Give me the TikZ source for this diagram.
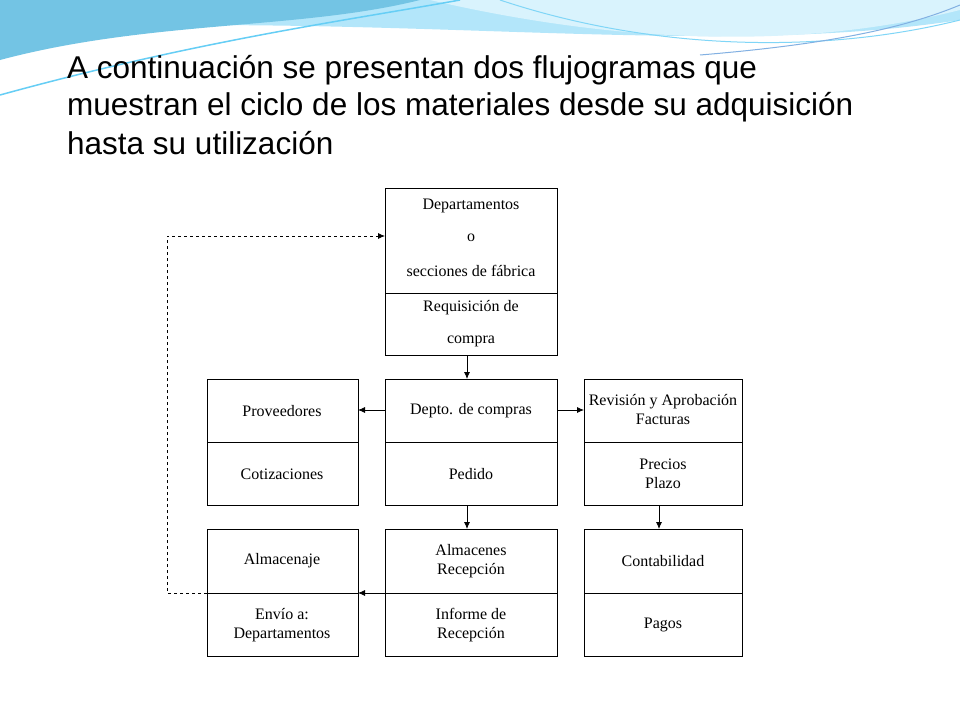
\documentclass[tikz,border=0pt]{standalone}
\usepackage{fontspec}
\setmainfont{Liberation Serif}
\newfontfamily\titlefont{Liberation Sans}
\usetikzlibrary{arrows.meta}
\begin{document}
\begin{tikzpicture}[x=1pt,y=-1pt,
  box/.style={draw=black,line width=0.8pt},
  lbl/.style={font=\fontsize{16}{19}\selectfont,align=center,inner sep=0pt},
  arr/.style={-{Latex[length=7pt,width=6pt]},line width=0.8pt}]
\useasboundingbox (0,0) rectangle (960,720);
\fill[white] (0,0) rectangle (960,720);
% waves
\fill[cyan!30] (0,0) -- (960,0) -- (960,20) .. controls (700,60) and (400,10) .. (0,30) -- cycle;
\fill[cyan!70!teal!60] (0,0) -- (420,0) .. controls (300,30) and (150,20) .. (0,60) -- cycle;
\fill[cyan!15] (430,0) .. controls (560,30) and (760,60) .. (960,10) -- (960,0) -- cycle;
\draw[cyan!60,line width=1.5pt] (0,95) .. controls (200,40) and (350,20) .. (460,0);
\draw[cyan!50,line width=1pt] (500,0) .. controls (650,50) and (820,55) .. (960,20);
\draw[cyan!60!blue!50,line width=1pt] (700,55) .. controls (820,45) and (900,30) .. (960,5);
% title
\tikzset{ttl/.style={anchor=west,inner sep=0pt,font=\titlefont\fontsize{31.5}{36}\selectfont}}
\node[ttl] (t1) at (67,70) {A continuación se presentan dos flujogramas que};
\node[ttl] (t2) at (67,107) {muestran el ciclo de los materiales desde su adquisición};
\node[ttl] (t3) at (67,143) {hasta su utilización};
% boxes
\draw[box] (385,188) rectangle (557,355); \draw[box] (385,293) -- (557,293);
\node[lbl] (a1) at (471,206) {Departamentos};
\node[lbl] (a2) at (471,238) {o};
\node[lbl] (a3) at (471,271) {secciones de fábrica};
\node[lbl] (a4) at (471,308) {Requisición de};
\node[lbl] (a5) at (471,341) {compra};
\coordinate (topL) at (385,236);
\foreach \xa/\xb in {207/358,385/557,584/742}{
  \draw[box] (\xa,379) rectangle (\xb,505); \draw[box] (\xa,442) -- (\xb,442);
  \draw[box] (\xa,529) rectangle (\xb,656); \draw[box] (\xa,593) -- (\xb,593);}
\node[lbl] (p1) at (282,411) {Proveedores};
\node[lbl] (p2) at (282,474) {Cotizaciones};
\node[lbl] (c1) at (471,411) {Depto. de compras};
\node[lbl] (c2) at (471,474) {Pedido};
\node[lbl] (r1) at (663,410) {Revisión y Aprobación\\Facturas};
\node[lbl] (r2) at (663,474) {Precios\\Plazo};
\node[lbl] (l1) at (282,561) {Almacenaje};
\node[lbl] (l2) at (282,625) {Envío a:\\Departamentos};
\node[lbl] (m1) at (471,561) {Almacenes\\Recepción};
\node[lbl] (m2) at (471,625) {Informe de\\Recepción};
\node[lbl] (k1) at (663,561) {Contabilidad};
\node[lbl] (k2) at (663,625) {Pagos};
% arrows
\draw[arr] (467,355) -- (467,379);
\draw[arr] (385,410) -- (358,410);
\draw[arr] (557,410) -- (584,410);
\draw[arr] (467,505) -- (467,529);
\draw[arr] (659,505) -- (659,529);
\draw[arr] (385,593) -- (358,593);
\draw[arr,dashed] (207,593) -- (167,593) -- (167,236) -- (topL);
\end{tikzpicture}
\end{document}
